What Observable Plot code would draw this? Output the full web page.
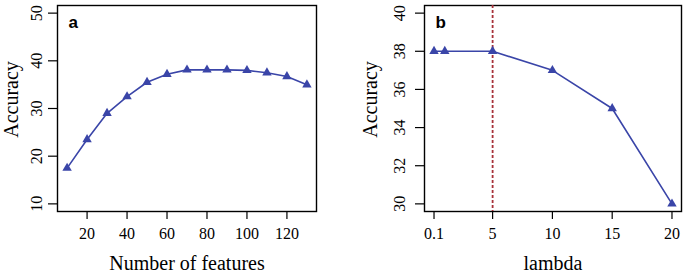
<!DOCTYPE html>
<html>
<head>
<meta charset="utf-8">
<script src="https://cdn.jsdelivr.net/npm/d3@7"></script>
<script src="https://cdn.jsdelivr.net/npm/@observablehq/plot@0.6"></script>
<style>
  html, body { margin: 0; padding: 0; background: #fff; }
  #wrap { position: relative; width: 685px; height: 273px; }
  #wrap > div, #wrap > svg { position: absolute; top: 0; }
</style>
</head>
<body>
<div id="wrap"></div>
<script>
// ---- data ----
const features = [10, 20, 30, 40, 50, 60, 70, 80, 90, 100, 110, 120, 130];
const accuracyA = [17.5, 23.5, 29.0, 32.5, 35.5, 37.2, 38.1, 38.1, 38.1, 38.0, 37.5, 36.7, 35.0];
const lambdas = [0.1, 1, 5, 10, 15, 20];
const accuracyB = [38, 38, 38, 37, 35, 30];
const selectedLambda = 5;
const xTicksA = [20, 40, 60, 80, 100, 120];
const yTicksA = [10, 20, 30, 40, 50];
const xTicksB = [0.1, 5, 10, 15, 20];
const yTicksB = [30, 32, 34, 36, 38, 40];

const blue = "#3a45a8";
const red = "#a8323a";
const serif = "Liberation Serif";
const sans = "Liberation Sans";

const dataA = features.map((x, i) => ({x, y: accuracyA[i]}));
const dataB = lambdas.map((x, i) => ({x, y: accuracyB[i]}));

function panel({data, width, marginLeft, marginRight, xDomain, yDomain, xTicks, yTicks, xTitle, tag, ylabDx, ytickDx, extra}) {
  return Plot.plot({
    width, height: 273,
    marginLeft, marginRight, marginTop: 5, marginBottom: 62,
    style: {fontFamily: serif, fontSize: "16px", background: "transparent", color: "#000"},
    x: {domain: xDomain, label: null},
    y: {domain: yDomain, label: null},
    marks: [
      Plot.frame({stroke: "#000", strokeWidth: 1.4}),
      ...(extra || []),
      Plot.line(data, {x: "x", y: "y", stroke: blue, strokeWidth: 1.6}),
      Plot.dot(data, {x: "x", y: "y", symbol: "triangle", r: 3.5, fill: blue, stroke: "none"}),
      Plot.axisX({ticks: xTicks, tickSize: 8, tickPadding: 8, tickFormat: d => String(d), label: null, fontSize: 16, fontFamily: serif, stroke: "#000", strokeWidth: 1.2}),
      Plot.axisY({ticks: yTicks, tickSize: 9, tickFormat: () => "", label: null, stroke: "#000", strokeWidth: 1.2}),
      Plot.text(yTicks, {y: d => d, text: d => String(d), frameAnchor: "left", textAnchor: "middle", lineAnchor: "middle", dx: ytickDx, rotate: -90, fontSize: 16, fontFamily: serif, fill: "#000"}),
      Plot.text([xTitle], {frameAnchor: "bottom", textAnchor: "middle", lineAnchor: "middle", dy: 52, fontSize: 20, fontFamily: serif, fill: "#000"}),
      Plot.text(["Accuracy"], {frameAnchor: "left", textAnchor: "middle", lineAnchor: "middle", dx: ylabDx, dy: -9, rotate: -90, fontSize: 20, fontFamily: serif, fill: "#000"}),
      Plot.text([tag], {frameAnchor: "top-left", textAnchor: "start", lineAnchor: "top", dx: 11, dy: 10, fontFamily: sans, fontWeight: "bold", fontSize: 17, fill: "#000"})
    ]
  });
}

const a = panel({
  data: dataA, width: 345, marginLeft: 57, marginRight: 29,
  xDomain: [5.2, 134.8], yDomain: [8.4, 51.6],
  xTicks: xTicksA, yTicks: yTicksA, xTitle: "Number of features", tag: "a",
  ylabDx: -46, ytickDx: -21
});
const b = panel({
  data: dataB, width: 340, marginLeft: 79, marginRight: 4,
  xDomain: [-0.696, 20.796], yDomain: [29.6, 40.4],
  xTicks: xTicksB, yTicks: yTicksB, xTitle: "lambda", tag: "b",
  ylabDx: -54, ytickDx: -25,
  extra: [Plot.ruleX([selectedLambda], {stroke: red, strokeWidth: 1.8, strokeDasharray: "3,2"})]
});
a.style.left = "0px";
b.style.left = "345px";
const wrap = document.getElementById("wrap");
wrap.appendChild(a);
wrap.appendChild(b);
</script>
</body>
</html>
